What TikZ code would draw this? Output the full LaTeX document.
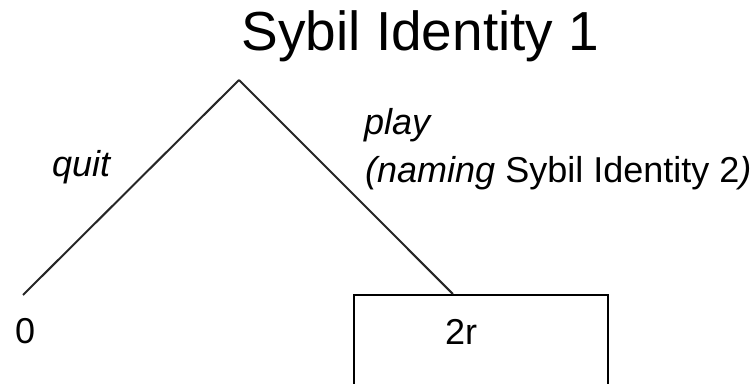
\documentclass[tikz,border=0pt]{standalone}
\usepackage{fontspec}
\setmainfont{Liberation Sans}
\usetikzlibrary{calc}
\begin{document}
\begin{tikzpicture}[x=1pt,y=1pt,
  branch/.style={line width=2pt,draw=black!85},
  payoffbox/.style={draw=black,line width=1.6pt,minimum width=254pt,minimum height=120pt,anchor=north,inner sep=0pt},
  lbl/.style={inner sep=0pt,anchor=base west,font=\fontsize{36}{43}\selectfont},
  titlelbl/.style={inner sep=0pt,anchor=base,font=\fontsize{55}{65}\selectfont}]
  \useasboundingbox (0,0) rectangle (755,383);
  \clip (0,0) rectangle (755,383);

  % decision node and its title
  \coordinate (root) at (239,303);
  \node[titlelbl] (title) at (420.5,332) {Sybil Identity 1};

  % left leaf: quit
  \coordinate (quitend) at (23,88);
  \node[lbl] (zero) at (15,40) {0};

  % right outcome box: play
  \node[payoffbox] (box) at (481,89) {};
  \coordinate (playend) at ($(box.north west)!0.390!(box.north east)$);
  \node[lbl] (payoff) at (445,38) {2r};

  % branches
  \draw[branch] (root) -- (quitend);
  \draw[branch] (root) -- (playend);

  % branch labels
  \node[lbl] (quit) at (52,206) {\itshape quit};
  \node[lbl] (play) at (364,248) {\itshape play};
  \node[lbl] (naming) at (365,200) {\itshape(naming\upshape{} Sybil Identity 2\itshape)};
\end{tikzpicture}
\end{document}
